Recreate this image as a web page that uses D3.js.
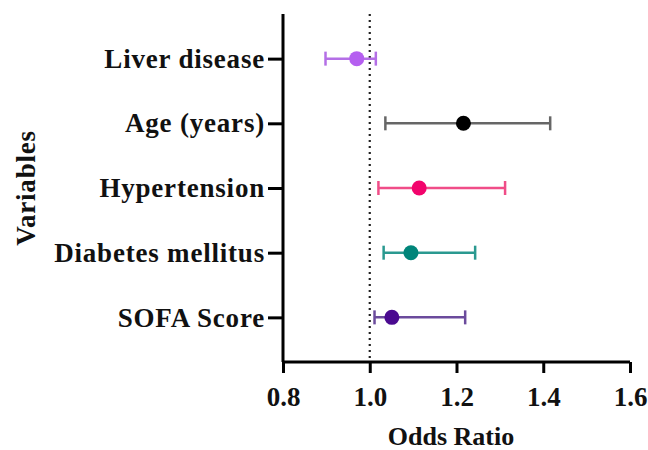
<!DOCTYPE html>
<html>
<head>
<meta charset="utf-8">
<script src="https://cdn.jsdelivr.net/npm/d3@7"></script>
<style>
  body { margin: 0; background: #fff; }
  svg text { font-family: "Liberation Serif", "Times New Roman", serif; font-weight: bold; fill: #111; }
</style>
</head>
<body>
<svg id="forest"></svg>
<script>
// values
let variables = ["Liver disease", "Age (years)", "Hypertension", "Diabetes mellitus", "SOFA Score"];
let oddsRatio = [0.97, 1.216, 1.114, 1.095, 1.051];
let lowerCI  = [0.898, 1.036, 1.02, 1.032, 1.011];
let upperCI  = [1.014, 1.416, 1.312, 1.243, 1.22];
let dotColors  = ["#b55ff0", "#000000", "#f2046c", "#00857a", "#4a0a90"];
let lineColors = ["#b46fe6", "#666666", "#f04d88", "#2a9990", "#6b4b9c"];
let xTicks = [0.8, 1.0, 1.2, 1.4, 1.6];

function makeForest() {
    let w = 648, h = 450;
    let left = 283, right = 630, top = 14, bottom = 362;
    let fs = "27px";

    let svg = d3.select("#forest")
        .attr("width", w)
        .attr("height", h);

    let x = d3.scaleLinear().domain([0.8, 1.6]).range([left, right]);
    let y = d3.scalePoint().domain(variables).range([top, bottom]).padding(0.69);

    // reference line at OR = 1
    svg.append("line")
        .attr("x1", x(1)).attr("x2", x(1))
        .attr("y1", top).attr("y2", bottom)
        .style("stroke", "#222")
        .style("stroke-width", 2.2)
        .style("stroke-dasharray", "2,4");

    let xAxis = svg.append("g")
        .attr("transform", `translate(0,${bottom})`)
        .call(d3.axisBottom(x).tickValues(xTicks).tickFormat(d3.format(".1f")).tickSize(11).tickPadding(14));
    let yAxis = svg.append("g")
        .attr("transform", `translate(${left},0)`)
        .call(d3.axisLeft(y).tickSize(15).tickPadding(3));

    [xAxis, yAxis].forEach(g => {
        g.select(".domain").style("stroke", "#000").style("stroke-width", 3);
        g.selectAll(".tick line").style("stroke", "#000").style("stroke-width", 3);
        g.selectAll(".tick text")
            .style("font-family", "Liberation Serif, serif")
            .style("font-weight", "bold")
            .style("font-size", fs)
            .style("fill", "#111");
    });
    yAxis.selectAll(".tick text").style("letter-spacing", "0.8px");
    yAxis.select(".domain").attr("d", `M-0,${top}V${bottom}`);
    xAxis.select(".domain").attr("d", `M${left},0H${right}`);

    let rows = variables.map((v, i) => ({
        name: v, or: oddsRatio[i], lo: lowerCI[i], hi: upperCI[i],
        dot: dotColors[i], line: lineColors[i]
    }));

    let g = svg.append("g").selectAll("g")
        .data(rows)
        .enter()
        .append("g");

    g.append("line")
        .attr("x1", d => x(d.lo)).attr("x2", d => x(d.hi))
        .attr("y1", d => y(d.name)).attr("y2", d => y(d.name))
        .style("stroke", d => d.line)
        .style("stroke-width", 2.5);

    g.selectAll(".cap")
        .data(d => [d.lo, d.hi].map(v => ({ v: v, d: d })))
        .enter()
        .append("line")
        .attr("x1", c => x(c.v)).attr("x2", c => x(c.v))
        .attr("y1", c => y(c.d.name) - 7).attr("y2", c => y(c.d.name) + 7)
        .style("stroke", c => c.d.line)
        .style("stroke-width", 2.5);

    g.append("circle")
        .attr("cx", d => x(d.or))
        .attr("cy", d => y(d.name))
        .attr("r", 7.5)
        .style("fill", d => d.dot);

    svg.append("text")
        .attr("x", 451)
        .attr("y", 445)
        .attr("text-anchor", "middle")
        .style("font-size", "26px")
        .text("Odds Ratio");

    svg.append("text")
        .attr("transform", `translate(35,${(top + bottom) / 2}) rotate(-90)`)
        .attr("text-anchor", "middle")
        .style("font-size", fs)
        .style("letter-spacing", "0.8px")
        .text("Variables");
}

window.onload = function() {
    makeForest();
}
</script>
</body>
</html>
